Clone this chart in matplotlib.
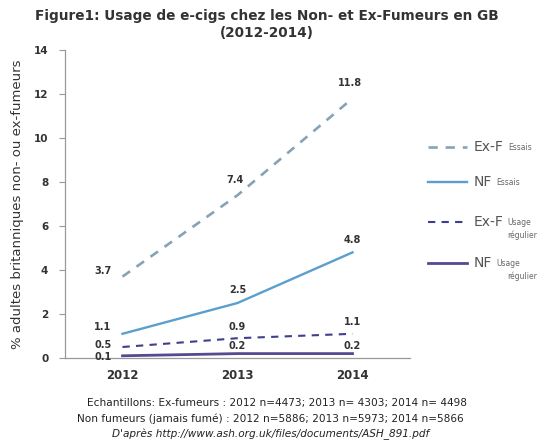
import matplotlib
matplotlib.use("Agg")
import matplotlib.pyplot as plt
from matplotlib.lines import Line2D

plt.rcParams["font.family"] = ["DejaVu Sans"]

years = ["2012", "2013", "2014"]
exf_essais = [3.7, 7.4, 11.8]
nf_essais = [1.1, 2.5, 4.8]
exf_usage = [0.5, 0.9, 1.1]
nf_usage = [0.1, 0.2, 0.2]
yticks = [0, 2, 4, 6, 8, 10, 12, 14]

W, H = 550, 442
fig = plt.figure(figsize=(5.5, 4.42), dpi=100)
ax = fig.add_axes([65 / W, 1 - 358 / H, (410 - 65) / W, (358 - 50) / H])

x = list(range(len(years)))
c1, c2, c3, c4 = "#86a3b6", "#5b9fcf", "#3e3f8c", "#56498f"
dash = (0, (3.5, 3))
ax.plot(x, exf_essais, color=c1, lw=1.9, ls=dash)
ax.plot(x, nf_essais, color=c2, lw=1.7)
ax.plot(x, exf_usage, color=c3, lw=1.5, ls=dash)
ax.plot(x, nf_usage, color=c4, lw=2.0)

ax.set_xlim(-0.5, 2.5)
ax.set_ylim(0, 14)
ax.set_yticks(yticks)
ax.set_xticks(x)
ax.set_xticklabels(years, fontsize=8.5, fontweight="bold", color="#333333")
for lab in ax.get_yticklabels():
    lab.set_fontsize(7.5)
    lab.set_fontweight("bold")
    lab.set_color("#333333")
ax.tick_params(axis="y", length=4, color="#999999", pad=8)
ax.tick_params(axis="x", length=0, pad=8)
for s in ["top", "right"]:
    ax.spines[s].set_visible(False)
for s in ["left", "bottom"]:
    ax.spines[s].set_color("#999999")
    ax.spines[s].set_linewidth(0.9)

ax.set_ylabel("% adultes britanniques non- ou ex-fumeurs", fontsize=9.5,
              color="#333333", labelpad=7)

lab_kw = dict(fontsize=7, fontweight="bold", color="#333333", ha="center")
# 2012 labels (left of the point)
ax.annotate(f"{exf_essais[0]}", (x[0], exf_essais[0]), xytext=(-14, 2), textcoords="offset points", **lab_kw)
ax.annotate(f"{nf_essais[0]}", (x[0], nf_essais[0]), xytext=(-14, 3), textcoords="offset points", **lab_kw)
ax.annotate(f"{exf_usage[0]}", (x[0], exf_usage[0]), xytext=(-14, -1), textcoords="offset points", **lab_kw)
ax.annotate(f"{nf_usage[0]}", (x[0], nf_usage[0]), xytext=(-14, -3), textcoords="offset points", **lab_kw)
# 2013 / 2014 labels (above the point)
for i in (1, 2):
    ax.annotate(f"{exf_essais[i]}", (x[i], exf_essais[i]), xytext=(-2, 9), textcoords="offset points", **lab_kw)
    ax.annotate(f"{nf_essais[i]}", (x[i], nf_essais[i]), xytext=(0, 7), textcoords="offset points", **lab_kw)
    ax.annotate(f"{exf_usage[i]}", (x[i], exf_usage[i]), xytext=(0, 6), textcoords="offset points", **lab_kw)
    ax.annotate(f"{nf_usage[i]}", (x[i], nf_usage[i]), xytext=(0, 3), textcoords="offset points", **lab_kw)

# Title
fig.text(267 / W, 1 - 16 / H, "Figure1: Usage de e-cigs chez les Non- et Ex-Fumeurs en GB",
         ha="center", va="center", fontsize=9.8, fontweight="bold", color="#333333")
fig.text(267 / W, 1 - 33 / H, "(2012-2014)", ha="center", va="center",
         fontsize=9.8, fontweight="bold", color="#333333")

# Legend (manual)
renderer = fig.canvas.get_renderer()
leg = [
    (147, c1, dash, 1.9, "Ex-F", "Essais", None),
    (182, c2, "-", 1.7, "NF", "Essais", None),
    (222, c3, dash, 1.5, "Ex-F", "Usage", "régulier"),
    (263, c4, "-", 2.0, "NF", "Usage", "régulier"),
]
for yy, col, ls, lw, big, small1, small2 in leg:
    fy = 1 - yy / H
    fig.add_artist(Line2D([428 / W, 467 / W], [fy, fy], color=col, ls=ls, lw=lw))
    t = fig.text(474 / W, fy, big, ha="left", va="center", fontsize=10, color="#555555")
    bb = t.get_window_extent(renderer)
    xs = (bb.x1 + 4) / W
    fig.text(xs, fy - 0.002, small1, ha="left", va="center", fontsize=5.5, color="#666666")
    if small2:
        fig.text(537 / W, fy - 13 / H, small2, ha="right", va="center", fontsize=5.5, color="#666666")

# Footer
fig.text(277 / W, 1 - 403 / H,
         "Echantillons: Ex-fumeurs : 2012 n=4473; 2013 n= 4303; 2014 n= 4498",
         ha="center", va="center", fontsize=7.6, color="#222222")
fig.text(270 / W, 1 - 419 / H,
         "Non fumeurs (jamais fumé) : 2012 n=5886; 2013 n=5973; 2014 n=5866",
         ha="center", va="center", fontsize=7.6, color="#222222")
fig.text(271 / W, 1 - 434 / H,
         "D'après http://www.ash.org.uk/files/documents/ASH_891.pdf",
         ha="center", va="center", fontsize=7.6, style="italic", color="#222222")

fig.savefig("out.png", dpi=100)
